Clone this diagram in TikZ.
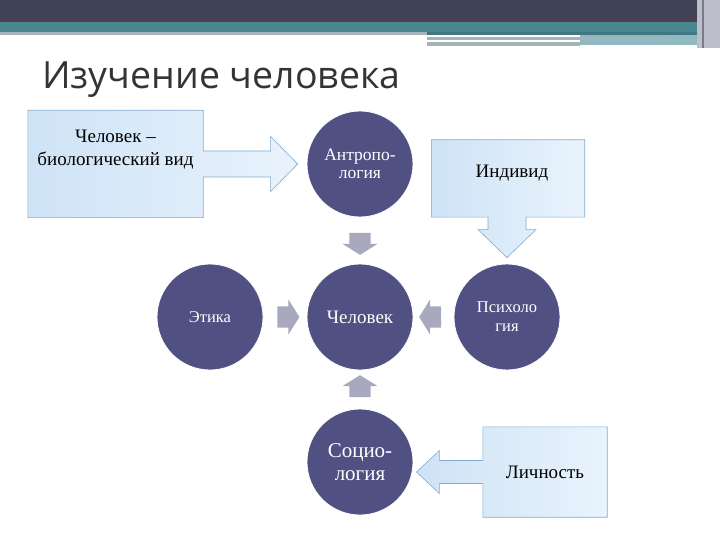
\documentclass[tikz,border=0pt]{standalone}
\usepackage{fontspec}
\setmainfont{Liberation Serif}
\newfontfamily\titlefont{Open Sans}
\usetikzlibrary{positioning,calc,shapes.arrows}
\definecolor{hdrdark}{RGB}{62,67,86}
\definecolor{hdrplum}{RGB}{78,64,84}
\definecolor{hdrteal}{RGB}{74,134,143}
\definecolor{hdrdeep}{RGB}{64,118,128}
\definecolor{hdrpale}{RGB}{143,184,192}
\definecolor{hdrline}{RGB}{165,180,186}
\definecolor{hdrside}{RGB}{190,190,204}
\definecolor{discblue}{RGB}{80,81,130}
\definecolor{pointgrey}{RGB}{168,168,190}
\definecolor{boxleft}{RGB}{206,227,246}
\definecolor{boxright}{RGB}{233,243,252}
\definecolor{boxedge}{RGB}{132,170,205}
\definecolor{titlegrey}{RGB}{52,52,56}

\begin{document}
\begin{tikzpicture}[x=1pt, y=-1pt]

% page frame, 720 x 540
\useasboundingbox (0,0) rectangle (720,540);

\tikzset{
  disc/.style={circle, fill=discblue, draw=white, line width=0.8pt, minimum size=106pt,
               inner sep=0pt, text=white, align=center},
  holder/.style={rectangle, inner sep=0pt},
  callout/.style={draw=boxedge, line width=0.6pt, left color=boxleft, right color=boxright},
  boxtext/.style={inner sep=0pt, align=center, text=black, font=\fontsize{19}{23}\selectfont},
  pointer/.style={single arrow, fill=pointgrey, inner xsep=0pt, inner ysep=10.5pt,
                  minimum height=22pt, minimum width=35pt, single arrow head extend=7pt,
                  single arrow tip angle=116}
}

% -----------------------------------------
% header bands
% -----------------------------------------
\fill[hdrdark] (0,0) rectangle (720,22);
\fill[hdrplum] (0,18) rectangle (697,22);
\fill[hdrteal] (0,22) rectangle (697,32);
\fill[hdrline] (0,32) rectangle (427,35);
\fill[hdrdeep] (427,32) rectangle (697,35);
\fill[hdrpale] (580,35) rectangle (697,45);
\fill[hdrline] (427,37.5) rectangle (667,40);
\fill[hdrline] (427,42.5) rectangle (580,46);
\fill[hdrside] (697,0) rectangle (720,48);
\fill[hdrdark!70] (702,0) rectangle (704,48);

\node[anchor=base west, inner sep=0pt, text=titlegrey,
      font=\titlefont\fontsize{37.5}{44}\selectfont] (title) at (42,89) {Изучение человека};

% -----------------------------------------
% circles
% -----------------------------------------
\node[disc, font=\fontsize{17.5}{18}\selectfont] (anthro) at (360,164) {Антропо-\\логия};
\node[disc, font=\fontsize{16.5}{18}\selectfont] (ethics) at (210,317) {Этика};
\node[disc, font=\fontsize{19}{22}\selectfont] (man) at (360,317) {Человек};
\node[disc, font=\fontsize{16.5}{19}\selectfont] (psych) at (507,317) {Психоло\\гия};
\node[disc, font=\fontsize{21}{23}\selectfont] (social) at (360,462) {Социо-\\логия};

% grey pointers into the centre
\node[pointer, rotate=-90] (p1) at ($(anthro.south)!0.5!(man.north)$) {};
\node[pointer] (p2) at ($(ethics.east)!0.5!(man.west)$) {};
\node[pointer, rotate=180] (p3) at ($(psych.west)!0.5!(man.east)$) {};
\node[pointer, rotate=90] (p4) at ($(social.north)!0.5!(man.south)$) {};

% -----------------------------------------
% callout boxes with block arrows
% -----------------------------------------
\node[holder, minimum width=175pt, minimum height=107pt] (bio) at (115.5,164) {};
\coordinate (biotip) at ($(anthro.west)+(-9,0)$);
\draw[callout] (bio.north west) -- (bio.north east) -- ($(bio.east)+(0,-13)$)
  -- ($(biotip)+(-27,-13)$) -- ($(biotip)+(-27,-27.5)$) -- (biotip)
  -- ($(biotip)+(-27,27.5)$) -- ($(biotip)+(-27,13)$) -- ($(bio.east)+(0,13)$)
  -- (bio.south east) -- (bio.south west) -- cycle;
\node[boxtext, below=20pt of bio.north] (biotxt) {Человек --\\биологический вид};

\node[holder, minimum width=153pt, minimum height=77pt] (indiv) at (508,178.5) {};
\coordinate (indivtip) at ($(psych.north)+(0,-6)$);
\draw[callout] (indiv.north west) -- (indiv.north east) -- (indiv.south east)
  -- ($(indivtip |- indiv.south)+(19,0)$) -- ($(indivtip)+(19,-28)$) -- ($(indivtip)+(29,-28)$)
  -- (indivtip) -- ($(indivtip)+(-29,-28)$) -- ($(indivtip)+(-19,-28)$)
  -- ($(indivtip |- indiv.south)+(-19,0)$) -- (indiv.south west) -- cycle;
\node[boxtext, below=25pt of indiv.north, xshift=4pt] (indivtxt) {Индивид};

\node[holder, minimum width=124pt, minimum height=90pt] (lich) at (545,472) {};
\coordinate (lichtip) at ($(social.east |- lich.west)+(3,0)$);
\draw[callout] (lich.north west) -- (lich.north east) -- (lich.south east)
  -- (lich.south west) -- ($(lich.west)+(0,11.5)$) -- ($(lichtip)+(23,11.5)$)
  -- ($(lichtip)+(23,21.5)$) -- (lichtip) -- ($(lichtip)+(23,-21.5)$)
  -- ($(lichtip)+(23,-11.5)$) -- ($(lich.west)+(0,-11.5)$) -- cycle;
\node[boxtext] (lichtxt) at (lich.center) {Личность};

\end{tikzpicture}
\end{document}
